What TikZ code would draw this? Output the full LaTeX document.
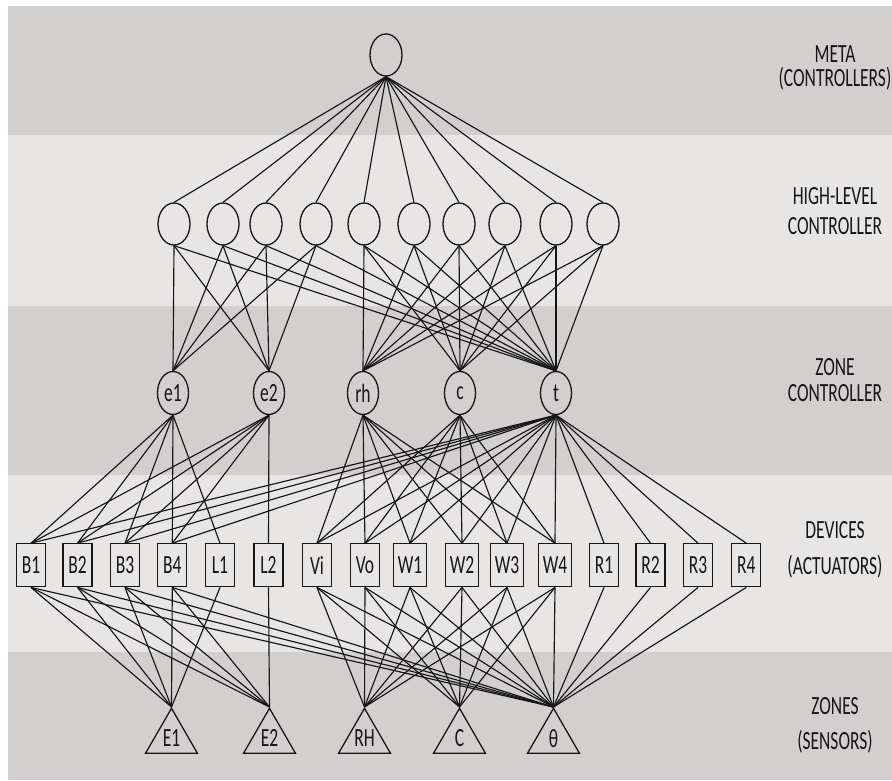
\documentclass[tikz,border=0pt]{standalone}
\usepackage{fontspec}
\usepackage{graphicx}
\setmainfont{Carlito}
\usetikzlibrary{shapes.geometric}

% tall, narrow lettering used throughout
\newcommand{\vtxt}[1]{\scalebox{1}[1.5]{#1}}

\definecolor{bandDark}{RGB}{211,207,207}
\definecolor{bandLight}{RGB}{232,229,229}
\definecolor{ink}{RGB}{22,22,22}

\begin{document}
\begin{tikzpicture}[x=1pt,y=-1pt,
  every node/.style={font=\fontsize{17.5}{20}\selectfont, text=ink},
  link/.style={draw=ink, line width=1.15pt},
  ctrl/.style={ellipse, draw=ink, line width=1.3pt, minimum width=32pt,
    minimum height=42pt, inner sep=0pt},
  device/.style={rectangle, draw=ink, line width=1.3pt, minimum width=29pt,
    minimum height=43pt, inner xsep=4pt, inner ysep=0pt},
  sensor/.style={regular polygon, regular polygon sides=3, draw=ink,
    line width=1.3pt, minimum size=60pt, inner sep=0pt},
  tierlabel/.style={inner sep=0pt}
]
\useasboundingbox (0,0) rectangle (892,781);

% horizontal bands of the hierarchy
\fill[white] (0,0) rectangle (892,781);
\fill[bandDark]  (8,6)   rectangle (892,135);
\fill[bandLight] (8,135) rectangle (892,306);
\fill[bandDark]  (8,306) rectangle (892,475);
\fill[bandLight] (8,475) rectangle (892,652);
\fill[bandDark]  (8,652) rectangle (892,780);

% meta controller
\node[ctrl] (meta) at (386,55) {};

% high-level controllers
\foreach \x [count=\i] in {174,223,266,316,364,414,459,505,556,603}
  \node[ctrl] (h\i) at (\x,224) {};

% zone controllers
\node[ctrl, minimum width=31pt, minimum height=43pt] (ze1) at (173,393) {\vtxt{e1}};
\node[ctrl, minimum width=31pt, minimum height=43pt] (ze2) at (269,393) {\vtxt{e2}};
\node[ctrl, minimum width=31pt, minimum height=43pt] (zrh) at (363,393) {\vtxt{rh}};
\node[ctrl, minimum width=31pt, minimum height=43pt] (zc)  at (460,393) {\vtxt{c}};
\node[ctrl, minimum width=31pt, minimum height=43pt] (zt)  at (556,393) {\vtxt{t}};

% devices (actuators)
\foreach \n/\x in {B1/31, B2/77.5, B3/125, B4/172.3, L1/220, L2/268.5,
                   Vi/317, Vo/365, W1/410, W2/462, W3/507, W4/555,
                   R1/604, R2/650.5, R3/698, R4/746.3}
  \node[device] (\n) at (\x,565.3) {\vtxt{\n}};

% zones (sensors)
\node[sensor] (E1) at (171.5,738.3) {\vtxt{E1}};
\node[sensor] (E2) at (269.5,738.3) {\vtxt{E2}};
\node[sensor] (RH) at (364.5,738.3) {\vtxt{RH}};
\node[sensor] (C)  at (459.5,738.3) {\vtxt{C}};
\node[sensor] (th) at (553.5,738.3) {\vtxt{θ}};

% meta -> high-level
\foreach \i in {1,...,10}
  \draw[link] (meta.south) -- (h\i.north);

% high-level -> zone controllers
\foreach \i in {1,...,4}
  \foreach \z in {ze1,ze2,zt}
    \draw[link] (h\i.south) -- (\z.north);
\foreach \i in {5,...,10}
  \foreach \z in {zrh,zc,zt}
    \draw[link] (h\i.south) -- (\z.north);

% zone controllers -> devices
\foreach \d in {B1,B2,B3,B4,L1}
  \draw[link] (ze1.south) -- (\d.north);
\foreach \d in {B1,B2,B3,B4,L2}
  \draw[link] (ze2.south) -- (\d.north);
\foreach \z in {zrh,zc}
  \foreach \d in {Vi,Vo,W1,W2,W3,W4}
    \draw[link] (\z.south) -- (\d.north);
\foreach \d in {B1,B2,B3,B4,Vi,Vo,W1,W2,W3,W4,R1,R2,R3,R4}
  \draw[link] (zt.south) -- (\d.north);

% devices -> sensors
\foreach \d in {B1,B2,B3,B4}
  \foreach \s in {E1,E2,th}
    \draw[link] (\d.south) -- (\s.corner 1);
\draw[link] (L1.south) -- (E1.corner 1);
\draw[link] (L2.south) -- (E2.corner 1);
\foreach \d in {Vi,Vo,W1,W2,W3,W4}
  \foreach \s in {RH,C,th}
    \draw[link] (\d.south) -- (\s.corner 1);
\foreach \d in {R1,R2,R3,R4}
  \draw[link] (\d.south) -- (th.corner 1);

% tier labels
\node[tierlabel] (tMetaA) at (835,54)  {\vtxt{META}};
\node[tierlabel] (tMetaB) at (835,79)  {\vtxt{(CONTROLLERS)}};
\node[tierlabel] (tHighA) at (835,196) {\vtxt{HIGH-LEVEL}};
\node[tierlabel] (tHighB) at (835,226) {\vtxt{CONTROLLER}};
\node[tierlabel] (tZoneA) at (835,367) {\vtxt{ZONE}};
\node[tierlabel] (tZoneB) at (835,393) {\vtxt{CONTROLLER}};
\node[tierlabel] (tDevA)  at (835,530) {\vtxt{DEVICES}};
\node[tierlabel] (tDevB)  at (835,567) {\vtxt{(ACTUATORS)}};
\node[tierlabel] (tSenA)  at (835,706) {\vtxt{ZONES}};
\node[tierlabel] (tSenB)  at (835,742) {\vtxt{(SENSORS)}};
\end{tikzpicture}
\end{document}
